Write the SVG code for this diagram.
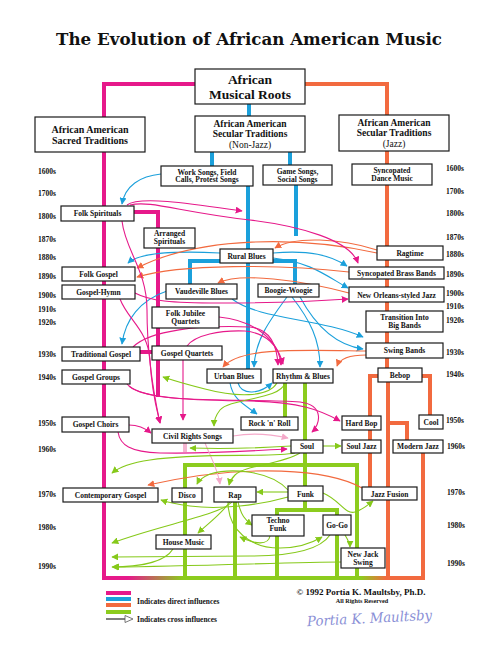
<svg xmlns="http://www.w3.org/2000/svg" width="500" height="646" viewBox="0 0 500 646">
<style>
.box{fill:#fff;stroke:#1a1a1a;stroke-width:1.2}
.t{font-family:"Liberation Serif","Times New Roman",serif;font-weight:bold;font-size:7.5px;fill:#111;text-anchor:middle}
.yr{font-family:"Liberation Serif","Times New Roman",serif;font-weight:bold;font-size:7.5px;fill:#111}
.h1{font-size:13.5px}
.h2{font-size:10px}
.h3{font-size:9.5px}
.sm{font-size:7.4px}
.dP{stroke:#e6198a;stroke-width:4;fill:none}
.dB{stroke:#1ba0db;stroke-width:4;fill:none}
.dO{stroke:#f26a3f;stroke-width:4;fill:none}
.dG{stroke:#8ccc1e;stroke-width:4;fill:none}
.cP{stroke:#e6198a;stroke-width:1.1;fill:none;marker-end:url(#aP)}
.cL{stroke:#f4a9c9;stroke-width:1.1;fill:none;marker-end:url(#aL)}
.cB{stroke:#1ba0db;stroke-width:1.1;fill:none;marker-end:url(#aB)}
.cO{stroke:#f26a3f;stroke-width:1.1;fill:none;marker-end:url(#aO)}
.cG{stroke:#86c91a;stroke-width:1.1;fill:none;marker-end:url(#aG)}
</style>
<defs>
<marker id="aP" viewBox="0 0 10 10" refX="9" refY="5" markerWidth="7" markerHeight="7" markerUnits="userSpaceOnUse" orient="auto"><path d="M0,0 L10,5 L0,10 z" fill="#e6198a"/></marker>
<marker id="aL" viewBox="0 0 10 10" refX="9" refY="5" markerWidth="7" markerHeight="7" markerUnits="userSpaceOnUse" orient="auto"><path d="M0,0 L10,5 L0,10 z" fill="#f4a9c9"/></marker>
<marker id="aB" viewBox="0 0 10 10" refX="9" refY="5" markerWidth="7" markerHeight="7" markerUnits="userSpaceOnUse" orient="auto"><path d="M0,0 L10,5 L0,10 z" fill="#1ba0db"/></marker>
<marker id="aO" viewBox="0 0 10 10" refX="9" refY="5" markerWidth="7" markerHeight="7" markerUnits="userSpaceOnUse" orient="auto"><path d="M0,0 L10,5 L0,10 z" fill="#f26a3f"/></marker>
<marker id="aG" viewBox="0 0 10 10" refX="9" refY="5" markerWidth="7" markerHeight="7" markerUnits="userSpaceOnUse" orient="auto"><path d="M0,0 L10,5 L0,10 z" fill="#86c91a"/></marker>
<linearGradient id="bottomGrad" gradientUnits="userSpaceOnUse" x1="102" y1="0" x2="425" y2="0">
<stop offset="0" stop-color="#e6198a"/><stop offset="0.08" stop-color="#e6198a"/><stop offset="0.25" stop-color="#8ccc1e"/><stop offset="0.8" stop-color="#8ccc1e"/><stop offset="0.88" stop-color="#f26a3f"/><stop offset="1" stop-color="#f26a3f"/>
</linearGradient>
</defs>
<rect width="500" height="646" fill="#fff"/>
<text x="249" y="45" font-family="DejaVu Serif, serif" font-weight="bold" font-size="16.7" text-anchor="middle" fill="#111">The Evolution of African American Music</text>

<g id="connectors">
<path class="dP" d="M195,84 H104 V578"/>
<path class="dP" d="M134,212 H158 V397"/>
<path class="dP" d="M140,352 H152"/>
<path class="dO" d="M305,84 H387 V368"/>
<path class="dO" d="M378,376 H370 V487"/>
<path class="dO" d="M422,376 H430 V415"/>
<path class="dO" d="M388,382 V578"/>
<path class="dO" d="M388,423 H407 V440"/>
<path class="dO" d="M423,453 V578"/>
<path class="dB" d="M249,104 V116"/>
<path class="dB" d="M212,152 V166"/>
<path class="dB" d="M290,152 V165"/>
<path class="dB" d="M248,186 V369"/>
<path class="dB" d="M296,185 V236"/>
<path class="dB" d="M190,285 V261 H295 V284"/>
<path class="dG" d="M285,383 V417"/>
<path class="dG" d="M305,383 V486"/>
<path class="dG" d="M185,578 V465 H357 V578"/>
<path class="dG" d="M235,502 V578"/>
<path class="dG" d="M305,501 V510"/>
<path class="dG" d="M277,578 V510 H337 V578"/>
<path d="M185,443 V452" stroke="#f4b5d0" stroke-width="4" fill="none"/>
<path d="M102,578 H425" stroke="url(#bottomGrad)" stroke-width="4" fill="none"/>

<path class="cB" d="M161,174 C140,176 125,186 122,204"/>
<path class="cB" d="M220,253 C180,251 140,252 128,263"/>
<path class="cB" d="M167,291 C140,300 125,320 122,344"/>
<path class="cB" d="M273,253 C310,250 330,255 347,266"/>
<path class="cB" d="M273,258 C310,262 325,275 348,288"/>
<path class="cB" d="M232,299 C260,320 320,318 363,337"/>
<path class="cB" d="M300,297 C315,325 335,345 363,349"/>
<path class="cB" d="M287,297 C270,320 255,340 254,367"/>
<path class="cB" d="M292,297 C310,320 320,340 320,367"/>
<path class="cB" d="M238,383 C242,396 260,394 272,383"/>
<path class="cB" d="M230,383 C233,400 245,405 257,414"/>

<path class="cO" d="M377,250 C340,238 295,236 275,248"/>
<path class="cO" d="M377,253 C300,236 200,236 137,268"/>
<path class="cO" d="M349,272 C280,264 180,264 137,277"/>
<path class="cO" d="M349,293 C300,280 240,272 218,283"/>
<path class="cO" d="M366,351 C300,350 240,347 223,367"/>
<path class="cO" d="M366,355 C350,355 340,358 337,366"/>
<path class="cO" d="M362,488 C330,470 250,462 148,485"/>

<path class="cP" d="M127,205 C140,195 200,205 242,211"/>
<path class="cP" d="M130,205 C150,200 180,212 250,220 C300,226 350,240 358,263"/>
<path class="cP" d="M122,221 C125,250 147,270 147,310 C147,360 155,400 160,423"/>
<path class="cP" d="M120,299 C128,320 148,330 150,360 C152,395 157,410 160,423"/>
<path class="cP" d="M135,293 C150,301 170,303 220,303 C280,303 320,301 348,299"/>
<path class="cP" d="M133,347 C150,330 200,325 250,327 C270,329 277,345 278,365"/>
<path class="cP" d="M187,346 C195,335 220,330 245,331 C265,333 280,345 281,365"/>
<path class="cP" d="M219,317 C250,320 275,335 283,364"/>
<path class="cP" d="M183,360 V420"/>
<path class="cP" d="M127,384 C140,400 200,400 250,401 C300,402 320,410 340,421"/>
<path class="cP" d="M129,386 C150,405 250,398 300,402 C325,405 320,425 312,432"/>
<path class="cP" d="M129,425 C138,425 145,428 151,433"/>
<path class="cP" d="M118,432 C120,445 130,452 160,453 C220,454 260,450 287,449"/>
<path class="cL" d="M233,436 C250,433 270,434 288,438"/>
<path class="cL" d="M205,443 C212,460 218,470 220,484"/>

<path class="cG" d="M277,383 C268,398 235,397 205,389 C185,384 172,380 163,377"/>
<path class="cG" d="M285,383 C280,400 230,398 220,410 C216,415 214,420 214,426"/>
<path class="cG" d="M291,446 C260,448 220,449 190,448"/>
<path class="cG" d="M323,446 H341"/>
<path class="cG" d="M295,453 C270,458 200,452 150,460 C130,463 118,468 112,473"/>
<path class="cG" d="M288,490 C270,470 230,468 210,474 C203,477 199,480 197,484"/>
<path class="cG" d="M300,453 C280,465 245,465 235,475 C232,478 230,481 229,485"/>
<path class="cG" d="M288,492 H257"/>
<path class="cG" d="M288,497 C260,505 220,510 190,506 C175,504 167,502 161,500"/>
<path class="cG" d="M323,493 C340,500 345,515 355,512 C362,510 368,505 373,501"/>
<path class="cG" d="M232,502 C220,515 160,525 112,543"/>
<path class="cG" d="M230,502 C220,515 210,522 198,533"/>
<path class="cG" d="M238,502 C241,515 245,520 252,525"/>
<path class="cG" d="M228,502 C228,530 250,548 280,548 C300,548 312,543 322,537"/>
<path class="cG" d="M270,536 C268,546 255,544 240,537"/>
<path class="cG" d="M345,535 C348,540 350,544 350,547"/>
<path class="cG" d="M330,535 C320,550 290,556 250,556 L112,557"/>
<path class="cG" d="M173,549 C165,562 140,567 112,567"/>
<path class="cG" d="M341,562 C300,562 200,566 113,567"/>
</g>

<g id="roots"><rect class="box" x="195" y="69" width="110" height="35"/><text class="t h1" x="250" y="84">African</text><text class="t h1" x="250" y="98.5">Musical Roots</text></g>
<g id="sacred"><rect class="box" x="35" y="117" width="110" height="35"/><text class="t h2" x="90" y="132.5">African American</text><text class="t h2" x="90" y="143.5">Sacred Traditions</text></g>
<g id="secular-nonjazz"><rect class="box" x="195" y="116" width="110" height="36"/><text class="t h3" x="250" y="126.5">African American</text><text class="t h3" x="250" y="137">Secular Traditions</text><text class="t h3" x="250" y="148" style="font-weight:normal">(Non-Jazz)</text></g>
<g id="secular-jazz"><rect class="box" x="339" y="115" width="110" height="36"/><text class="t h3" x="394" y="125.5">African American</text><text class="t h3" x="394" y="136">Secular Traditions</text><text class="t h3" x="394" y="147" style="font-weight:normal">(Jazz)</text></g>
<g id="work-songs"><rect class="box" x="161" y="166" width="92" height="20"/><text class="t" x="207" y="174.5">Work Songs, Field</text><text class="t" x="207" y="182.3">Calls, Protest Songs</text></g>
<g id="game-songs"><rect class="box" x="263" y="165" width="69" height="20"/><text class="t" x="297.5" y="173.8">Game Songs,</text><text class="t" x="297.5" y="181.6">Social Songs</text></g>
<g id="syncopated-dance"><rect class="box" x="352" y="164" width="80" height="21"/><text class="t" x="392" y="173.3">Syncopated</text><text class="t" x="392" y="181.1">Dance Music</text></g>
<g id="folk-spirituals"><rect class="box" x="61" y="206" width="73" height="15"/><text class="t" x="97.5" y="216">Folk Spirituals</text></g>
<g id="arranged-spirituals"><rect class="box" x="144" y="228" width="51" height="20"/><text class="t" x="169.5" y="235.5">Arranged</text><text class="t" x="169.5" y="243.5">Spirituals</text></g>
<g id="rural-blues"><rect class="box" x="220" y="249" width="53" height="14"/><text class="t" x="246.5" y="258.5">Rural Blues</text></g>
<g id="ragtime"><rect class="box" x="377" y="246" width="66" height="14"/><text class="t" x="410" y="255.7">Ragtime</text></g>
<g id="folk-gospel"><rect class="box" x="62" y="267" width="73" height="14"/><text class="t" x="98.5" y="276.8">Folk Gospel</text></g>
<g id="sync-brass"><rect class="box" x="349" y="267" width="95" height="12"/><text class="t" x="396.5" y="275.6">Syncopated Brass Bands</text></g>
<g id="gospel-hymn"><rect class="box" x="62" y="285" width="73" height="14"/><text class="t" x="98.5" y="294.7">Gospel-Hymn</text></g>
<g id="vaudeville-blues"><rect class="box" x="166" y="284" width="71" height="15"/><text class="t" x="201.5" y="294">Vaudeville Blues</text></g>
<g id="boogie-woogie"><rect class="box" x="258" y="284" width="61" height="13"/><text class="t" x="288.5" y="293">Boogie-Woogie</text></g>
<g id="new-orleans"><rect class="box" x="349" y="287" width="95" height="15"/><text class="t" x="396.5" y="297.5">New Orleans-styled Jazz</text></g>
<g id="folk-jubilee"><rect class="box" x="152" y="307" width="67" height="21"/><text class="t" x="185.5" y="315.5">Folk Jubilee</text><text class="t" x="185.5" y="323.5">Quartets</text></g>
<g id="transition"><rect class="box" x="366" y="311" width="77" height="21"/><text class="t" x="404.5" y="319.5">Transition Into</text><text class="t" x="404.5" y="327.5">Big Bands</text></g>
<g id="traditional-gospel"><rect class="box" x="62" y="347" width="78" height="14"/><text class="t" x="101" y="356.5">Traditional Gospel</text></g>
<g id="gospel-quartets"><rect class="box" x="152" y="346" width="70" height="14"/><text class="t" x="187" y="355.5">Gospel Quartets</text></g>
<g id="swing-bands"><rect class="box" x="366" y="343" width="77" height="15"/><text class="t" x="404.5" y="353">Swing Bands</text></g>
<g id="gospel-groups"><rect class="box" x="62" y="370" width="68" height="14"/><text class="t" x="96" y="379.7">Gospel Groups</text></g>
<g id="urban-blues"><rect class="box" x="207" y="369" width="54" height="14"/><text class="t" x="234" y="378.7">Urban Blues</text></g>
<g id="rhythm-blues"><rect class="box" x="273" y="369" width="60" height="14"/><text class="t" x="303" y="378.7">Rhythm &amp; Blues</text></g>
<g id="bebop"><rect class="box" x="378" y="368" width="44" height="14"/><text class="t" x="400" y="377.8">Bebop</text></g>
<g id="gospel-choirs"><rect class="box" x="62" y="417" width="67" height="15"/><text class="t" x="95.5" y="427">Gospel Choirs</text></g>
<g id="civil-rights"><rect class="box" x="152" y="429" width="81" height="14"/><text class="t" x="192.5" y="438.8">Civil Rights Songs</text></g>
<g id="rock-n-roll"><rect class="box" x="241" y="417" width="57" height="13"/><text class="t" x="269.5" y="426.3">Rock 'n' Roll</text></g>
<g id="hard-bop"><rect class="box" x="342" y="416" width="39" height="14"/><text class="t" x="361.5" y="425.7">Hard Bop</text></g>
<g id="cool"><rect class="box" x="419" y="415" width="24" height="14"/><text class="t" x="431" y="424.7">Cool</text></g>
<g id="soul"><rect class="box" x="291" y="440" width="32" height="13"/><text class="t" x="307" y="449.3">Soul</text></g>
<g id="soul-jazz"><rect class="box" x="342" y="440" width="39" height="13"/><text class="t" x="361.5" y="449.3">Soul Jazz</text></g>
<g id="modern-jazz"><rect class="box" x="393" y="440" width="50" height="13"/><text class="t" x="418" y="449.3">Modern Jazz</text></g>
<g id="contemporary-gospel"><rect class="box" x="63" y="488" width="95" height="14"/><text class="t" x="110.5" y="497.7">Contemporary Gospel</text></g>
<g id="disco"><rect class="box" x="172" y="488" width="30" height="14"/><text class="t" x="187" y="497.7">Disco</text></g>
<g id="rap"><rect class="box" x="214" y="487" width="42" height="15"/><text class="t" x="235" y="497.5">Rap</text></g>
<g id="funk"><rect class="box" x="288" y="486" width="35" height="15"/><text class="t" x="305.5" y="496.5">Funk</text></g>
<g id="jazz-fusion"><rect class="box" x="362" y="487" width="55" height="13"/><text class="t" x="389.5" y="496.5">Jazz Fusion</text></g>
<g id="techno-funk"><rect class="box" x="252" y="515" width="52" height="21"/><text class="t" x="278" y="523.2">Techno</text><text class="t" x="278" y="531.4">Funk</text></g>
<g id="go-go"><rect class="box" x="323" y="515" width="28" height="20"/><text class="t" x="337" y="527.7">Go-Go</text></g>
<g id="house-music"><rect class="box" x="156" y="535" width="55" height="14"/><text class="t" x="183.5" y="544.7">House Music</text></g>
<g id="new-jack-swing"><rect class="box" x="341" y="548" width="44" height="20"/><text class="t" x="363" y="556.8">New Jack</text><text class="t" x="363" y="565">Swing</text></g>

<g id="years-left">
<text class="yr" x="38" y="174.4">1600s</text><text class="yr" x="38" y="195.7">1700s</text><text class="yr" x="38" y="218.7">1800s</text><text class="yr" x="38" y="241.7">1870s</text><text class="yr" x="38" y="259.7">1880s</text><text class="yr" x="38" y="278.7">1890s</text><text class="yr" x="38" y="297.7">1900s</text><text class="yr" x="38" y="311.7">1910s</text><text class="yr" x="38" y="324.7">1920s</text><text class="yr" x="38" y="356.7">1930s</text><text class="yr" x="38" y="379.7">1940s</text><text class="yr" x="38" y="425.7">1950s</text><text class="yr" x="38" y="451.7">1960s</text><text class="yr" x="38" y="496.7">1970s</text><text class="yr" x="38" y="529.7">1980s</text><text class="yr" x="38" y="568.7">1990s</text>
</g>
<g id="years-right">
<text class="yr" x="446" y="170.7">1600s</text><text class="yr" x="446" y="193.7">1700s</text><text class="yr" x="446" y="215.7">1800s</text><text class="yr" x="446" y="239.7">1870s</text><text class="yr" x="446" y="256.7">1880s</text><text class="yr" x="446" y="276.7">1890s</text><text class="yr" x="446" y="295.7">1900s</text><text class="yr" x="446" y="308.7">1910s</text><text class="yr" x="446" y="322.7">1920s</text><text class="yr" x="446" y="354.7">1930s</text><text class="yr" x="446" y="376.7">1940s</text><text class="yr" x="446" y="422.7">1950s</text><text class="yr" x="447" y="448.7">1960s</text><text class="yr" x="447" y="494.7">1970s</text><text class="yr" x="447" y="527.7">1980s</text><text class="yr" x="447" y="565.7">1990s</text>
</g>

<g id="legend">
<rect x="106" y="591" width="25" height="4" fill="#e6198a"/>
<rect x="106" y="597" width="25" height="4" fill="#1ba0db"/>
<rect x="106" y="603" width="25" height="4" fill="#f26a3f"/>
<rect x="106" y="610" width="25" height="4" fill="#8ccc1e"/>
<text class="yr sm" x="137" y="603.5">Indicates direct influences</text>
<path d="M106,619 H125" stroke="#555" stroke-width="1.5"/>
<polygon points="125,615.5 133,619 125,622.5" fill="#fff" stroke="#555" stroke-width="0.8"/>
<text class="yr sm" x="137" y="621.5">Indicates cross influences</text>
</g>
<g id="credits">
<text class="t" x="361" y="595" style="font-size:9px">© 1992 Portia K. Maultsby, Ph.D.</text>
<text class="t" x="362" y="602.5" style="font-size:6.2px">All Rights Reserved</text>
<text x="307" y="623" font-family="DejaVu Serif, serif" font-style="italic" font-size="14" fill="#8a8fd6" textLength="125" lengthAdjust="spacingAndGlyphs" transform="rotate(-3 370 618)">Portia K. Maultsby</text>
</g>
</svg>
